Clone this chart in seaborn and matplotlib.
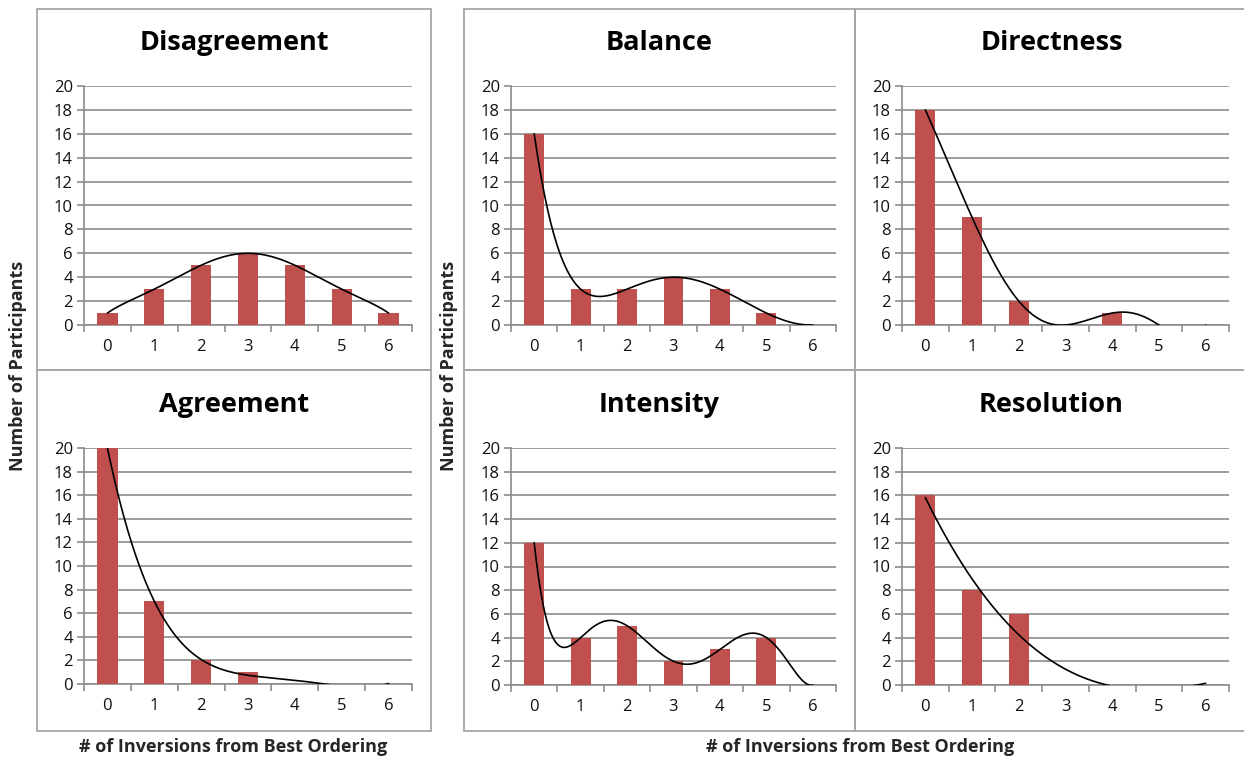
import numpy as np
import pandas as pd
import matplotlib
matplotlib.use("Agg")
import matplotlib.pyplot as plt
from matplotlib.patches import Rectangle
import seaborn as sns

# ---------------- data ----------------
categories = ["0", "1", "2", "3", "4", "5", "6"]

disagreement = [1, 3, 5, 6, 5, 3, 1]
agreement = [20, 7, 2, 1, 0, 0, 0]
balance = [16, 3, 3, 4, 3, 1, 0]
directness = [18, 9, 2, 0, 1, 0, 0]
intensity = [12, 4, 5, 2, 3, 4, 0]
resolution = [16, 8, 6, 0, 0, 0, 0]

# polynomial trendline order used for each panel
trend_order = {"Disagreement": 6, "Agreement": 4, "Balance": 6,
               "Directness": 6, "Intensity": 6, "Resolution": 3}

y_ticks = [0, 2, 4, 6, 8, 10, 12, 14, 16, 18, 20]

panels = [
    ("Disagreement", disagreement, (84, 412, 86, 325)),
    ("Agreement", agreement, (84, 412, 448, 684)),
    ("Balance", balance, (511, 836, 86, 325)),
    ("Directness", directness, (902, 1229, 86, 325)),
    ("Intensity", intensity, (511, 836, 448, 685)),
    ("Resolution", resolution, (902, 1229, 448, 685)),
]

W, H = 1244, 760
BAR = "#C0504D"
GRID = "#8C8C8C"
BOX = "#A6A6A6"

sns.set_theme(style="white")
plt.rcParams["font.family"] = ["Open Sans", "DejaVu Sans"]

fig = plt.figure(figsize=(W / 100, H / 100), dpi=100)
fig.patch.set_facecolor("white")


def fx(px):
    return px / W


def fy(py):
    return 1 - py / H


def box(x0, y0, x1, y1):
    fig.patches.append(Rectangle((fx(x0), fy(y1)), fx(x1) - fx(x0), fy(y0) - fy(y1),
                                 transform=fig.transFigure, fill=False,
                                 edgecolor=BOX, linewidth=1.3, zorder=0))


box(37, 9, 431, 370)
box(37, 370, 431, 731)
box(464, 9, 855, 370)
box(855, 9, 1250, 370)
box(464, 370, 855, 731)
box(855, 370, 1250, 731)

for title, vals, (l, r, t, b) in panels:
    ax = fig.add_axes([fx(l), fy(b), fx(r) - fx(l), fy(t) - fy(b)])
    df = pd.DataFrame({"cat": categories, "val": vals})
    sns.barplot(data=df, x="cat", y="val", ax=ax, color=BAR, width=0.43,
                saturation=1, zorder=3, linewidth=0)
    # polynomial trendline fitted to the bar values
    xpos = np.arange(len(vals))
    coef = np.polyfit(xpos, np.array(vals, dtype=float), trend_order[title])
    xs = np.linspace(0, len(vals) - 1, 400)
    ys = np.polyval(coef, xs)
    sns.lineplot(x=xs, y=ys, ax=ax, color="black", linewidth=1.2, zorder=4,
                 estimator=None, sort=False)
    ax.set_xlim(-0.5, 6.5)
    ax.set_ylim(0, 20)
    ax.set_yticks(y_ticks)
    ax.set_yticklabels([str(v) for v in y_ticks])
    ax.yaxis.grid(True, color=GRID, linewidth=1.2, zorder=0)
    ax.set_axisbelow(True)
    ax.set_xlabel("")
    ax.set_ylabel("")
    for s in ["top", "right"]:
        ax.spines[s].set_visible(False)
    for s in ["left", "bottom"]:
        ax.spines[s].set_color(GRID)
        ax.spines[s].set_linewidth(1.2)
    ax.set_xticks(range(len(categories)))
    ax.set_xticklabels(categories)
    ax.set_xticks(np.arange(-0.5, 7.0, 1.0), minor=True)
    ax.tick_params(axis="x", which="major", length=0, pad=10, labelsize=12, labelcolor="#111111")
    ax.tick_params(axis="x", which="minor", length=5, width=1.2, color=GRID, direction="out", bottom=True)
    ax.tick_params(axis="y", which="major", length=5, width=1.2, color=GRID, direction="out",
                   left=True, pad=3, labelsize=12, labelcolor="#111111")
    ax.set_facecolor("none")
    fig.text(fx((l + r) / 2 - 14), fy(t - 43), title, ha="center", va="center",
             fontsize=19.5, fontweight="bold", color="black")

# axis labels
fig.text(fx(18), fy(366), "Number of Participants", rotation=90, ha="center", va="center",
         fontsize=13, fontweight="bold")
fig.text(fx(449), fy(366), "Number of Participants", rotation=90, ha="center", va="center",
         fontsize=13, fontweight="bold")
fig.text(fx(233), fy(747), "# of Inversions from Best Ordering", ha="center", va="center",
         fontsize=13, fontweight="bold")
fig.text(fx(860), fy(747), "# of Inversions from Best Ordering", ha="center", va="center",
         fontsize=13, fontweight="bold")

fig.savefig("out.png", dpi=100, facecolor="white")
